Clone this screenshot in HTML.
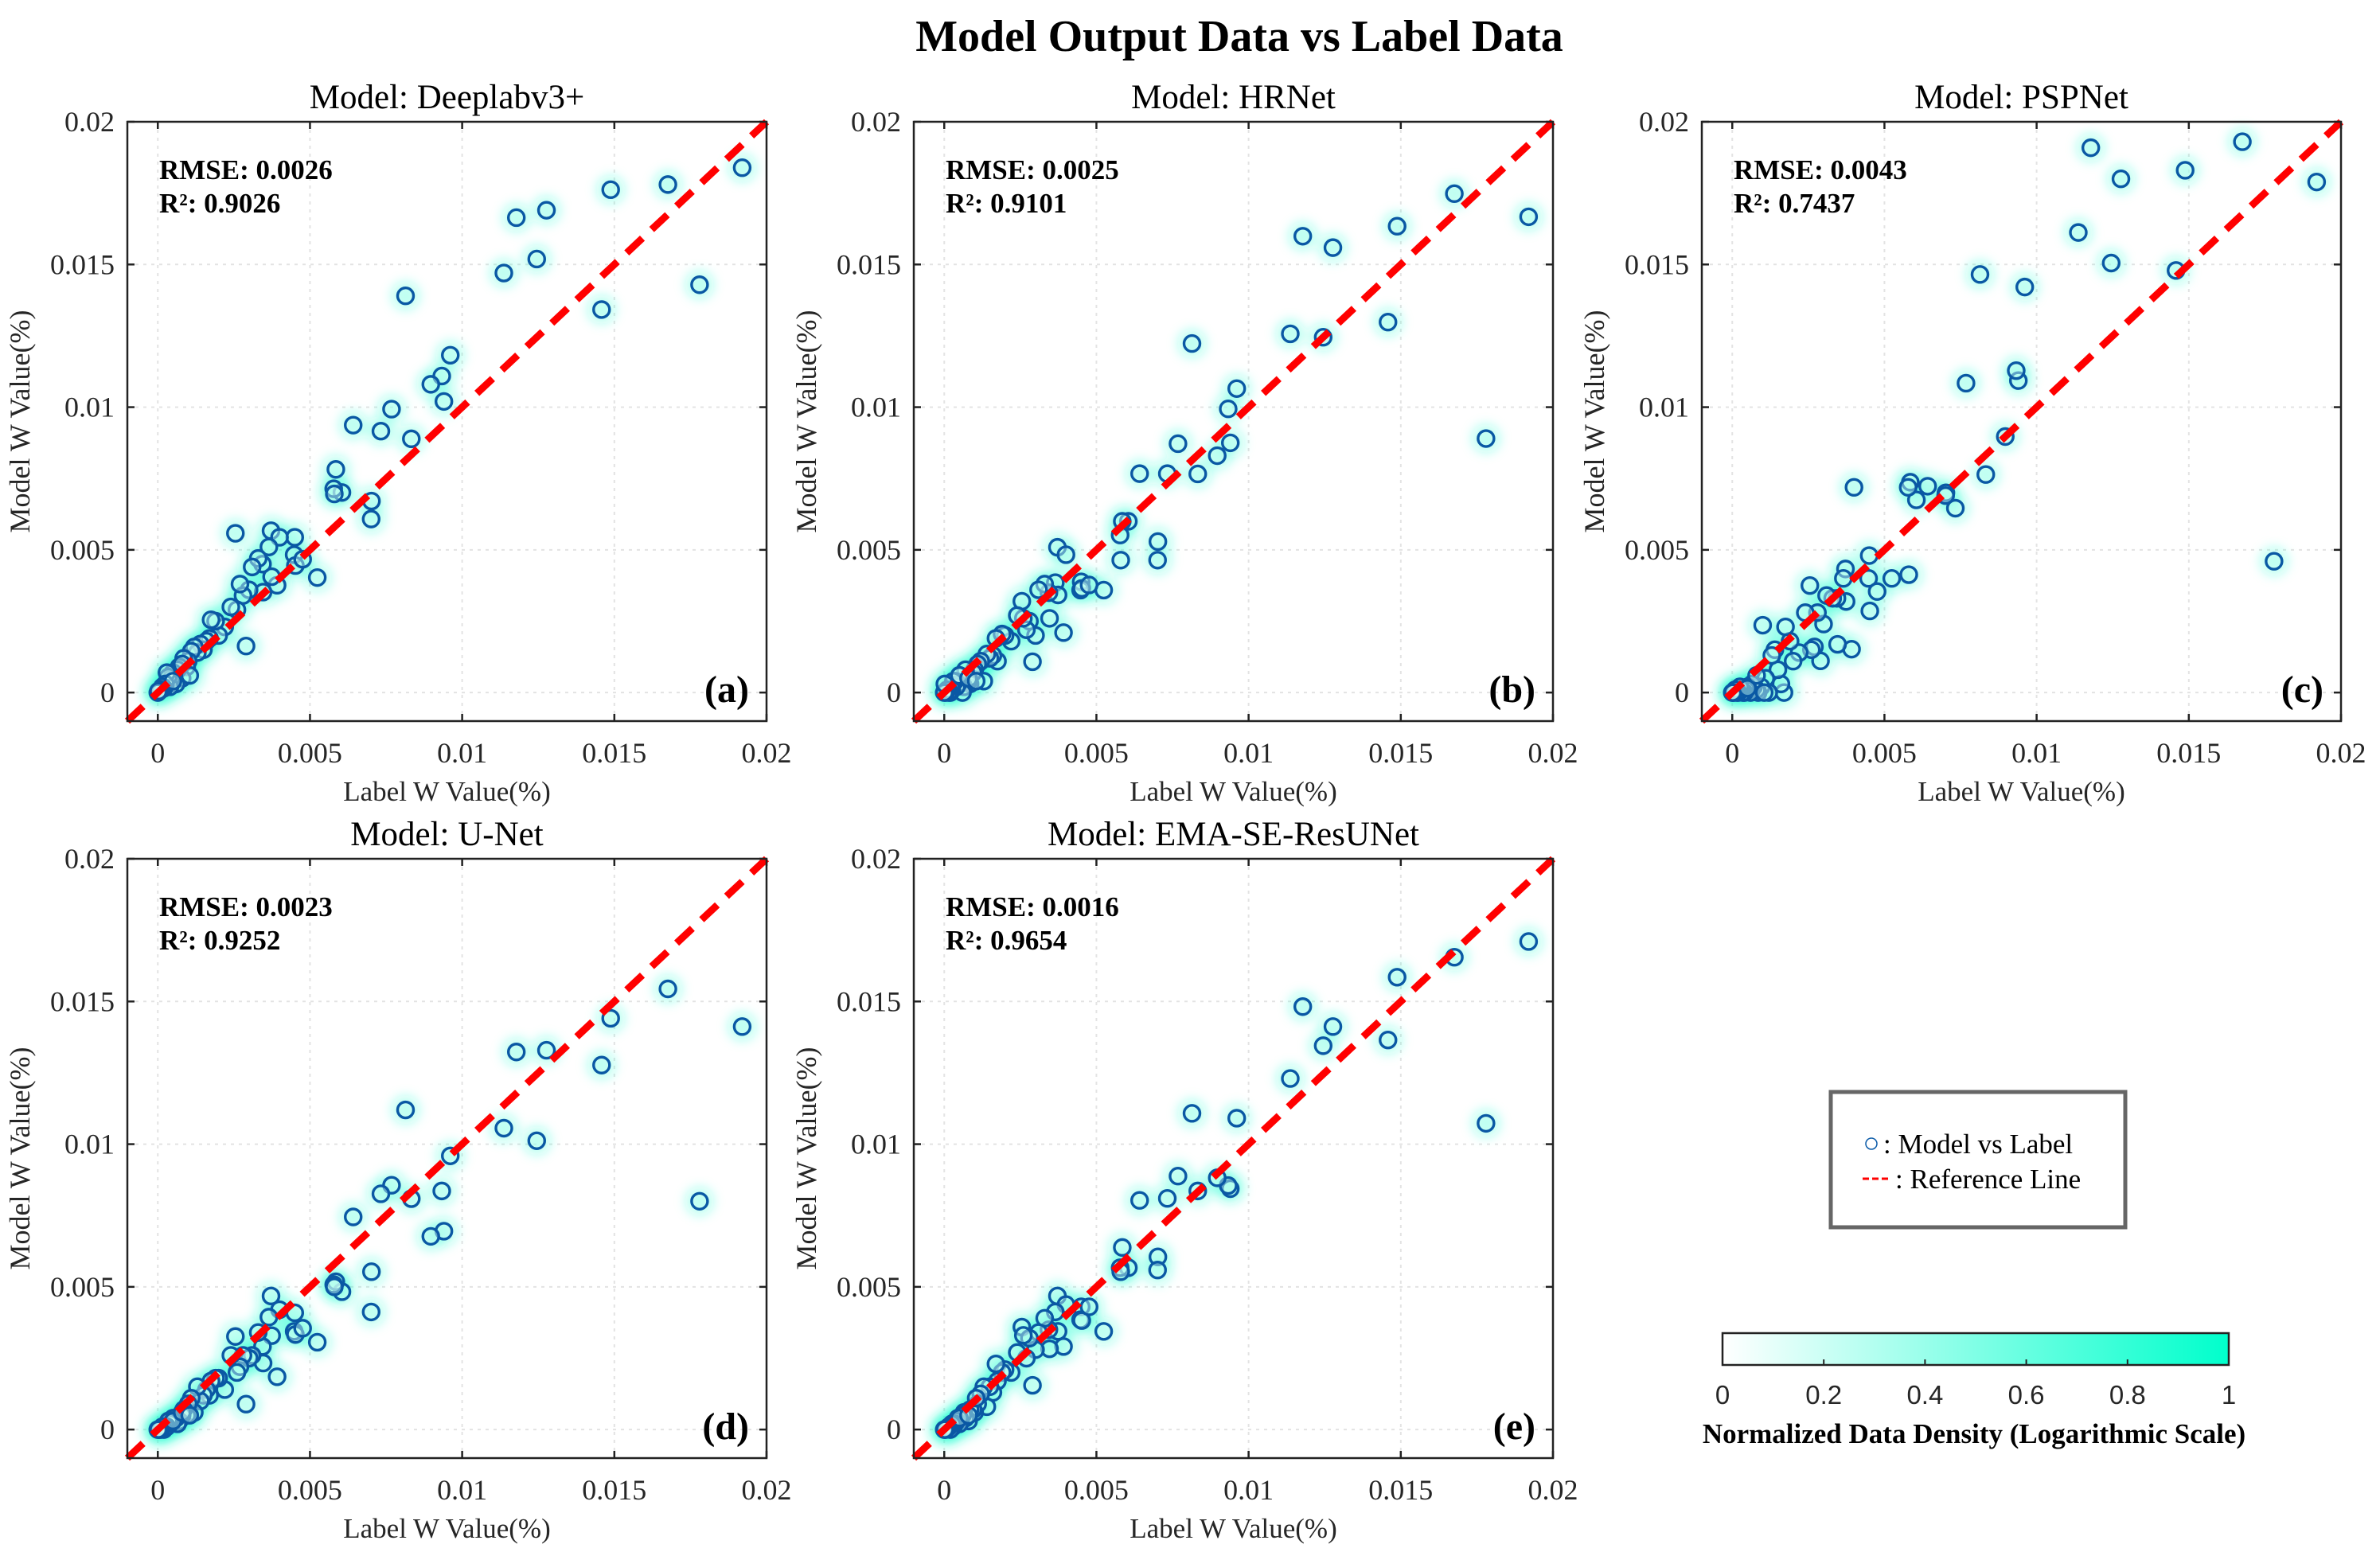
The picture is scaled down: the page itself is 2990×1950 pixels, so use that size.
<!DOCTYPE html>
<html><head><meta charset="utf-8"><style>
html,body{margin:0;padding:0;background:#fff;}
svg{display:block;}
</style></head><body>
<svg id="fig" width="2990" height="1950" viewBox="0 0 2990 1950" xmlns="http://www.w3.org/2000/svg">
<defs>
<filter id="blur" x="-50%" y="-50%" width="200%" height="200%"><feGaussianBlur stdDeviation="7"/></filter>
<linearGradient id="cbgrad" x1="0" x2="1" y1="0" y2="0"><stop offset="0" stop-color="#ffffff"/><stop offset="1" stop-color="#00ffcc"/></linearGradient>
</defs>
<text x="1557" y="64" text-anchor="middle" font-family="Liberation Serif, serif" font-weight="bold" font-size="56">Model Output Data vs Label Data</text>
<g id="panels"></g>
<g>
<rect x="2300" y="1372" width="370" height="170" fill="#fff" stroke="#666" stroke-width="5"/>
<circle cx="2351" cy="1437" r="7" fill="none" stroke="#0a5aa8" stroke-width="1.5"/>
<text x="2366" y="1449" font-family="Liberation Serif, serif" font-size="35">: Model vs Label</text>
<line x1="2340" y1="1481" x2="2374" y2="1481" stroke="#f00" stroke-width="3" stroke-dasharray="8,4"/>
<text x="2381" y="1493" font-family="Liberation Serif, serif" font-size="35">: Reference Line</text>
</g>
<g id="cbar">
<rect x="2164" y="1675" width="636" height="40" fill="url(#cbgrad)" stroke="#222" stroke-width="2.5"/>
<text x="2480" y="1813" text-anchor="middle" font-family="Liberation Serif, serif" font-weight="bold" font-size="35">Normalized Data Density (Logarithmic Scale)</text>
</g>
</svg>
<script>
const labelW = [19.2,17.8,16.76,14.88,14.58,12.77,12.45,11.78,11.37,9.61,9.40,9.33,8.97,8.33,8.14,7.68,7.33,6.42,7.02,7.01,6.05,5.85,5.78,5.80,5.24,4.50,4.48,4.52,4.76,3.92,3.72,4.0,3.65,3.74,3.46,3.44,2.55,2.9,
 3.3,3.1,3.0,2.8,2.7,2.6,2.4,2.2,2.0,1.9,1.75,1.7,1.6,1.5,1.4,1.3,1.2,1.1,1.0,0.95,0.85,0.8,0.7,0.65,0.6,0.5,0.45,0.4,0.35,0.3,0.25,0.2,0.15,0.1,0.05,0.0,0.02,0.5,0.8,1.05];
const outDeeplab = [18.39,14.29,17.8,17.62,13.42,16.9,15.19,16.64,14.7,11.82,10.2,11.09,10.8,8.89,13.9,9.93,9.16,9.37,6.71,6.08,7.01,7.82,7.14,6.96,4.03,5.44,4.83,4.45,4.67,3.76,5.67,5.44,5.1,4.06,3.52,4.5,5.58,1.63,
 4.7,4.4,3.6,3.4,3.8,2.9,3.0,2.3,2.0,2.5,2.55,1.9,1.8,1.5,1.7,1.4,1.6,1.45,1.1,0.9,1.2,0.5,0.9,0.8,0.3,0.7,0.5,0.2,0.55,0.7,0.3,0.15,0.2,0.1,0.05,0.0,0.05,0.4,1.0,0.6];
const outHRNet = [16.67,8.9,17.48,16.34,12.98,15.59,12.45,15.99,12.57,10.65,8.75,9.94,8.3,7.66,12.23,8.72,7.67,7.67,5.29,4.64,6.0,6.0,5.52,4.64,3.59,3.88,3.59,3.65,3.77,2.1,5.09,4.83,3.85,3.42,2.6,3.5,3.2,1.08,
 3.8,3.6,2.0,2.5,2.2,2.6,2.7,1.8,2.0,2.05,1.1,1.9,1.3,1.2,1.35,0.4,1.1,1.0,0.8,0.7,0.3,0.4,0.8,0.2,0.0,0.6,0.3,0.2,0.4,0.4,0.1,0.0,0.0,0.1,0.0,0.0,0.3,0.6,0.5,0.4];
const outPSPNet = [17.89,4.6,19.3,18.3,14.79,18.0,15.05,19.09,16.12,14.21,10.93,11.28,8.97,7.64,14.65,10.84,6.46,7.23,7.0,6.9,6.75,7.37,7.19,4.13,4.0,4.8,4.0,2.86,3.54,1.52,4.33,7.19,4.0,3.19,1.69,3.3,3.75,1.11,
 3.3,3.4,2.4,2.8,1.6,1.5,2.8,1.4,1.1,1.8,2.3,0.0,0.3,0.8,1.5,1.3,0.0,0.5,2.36,0.2,0.0,0.1,0.2,0.3,0.0,0.2,0.1,0.0,0.0,0.1,0.2,0.0,0.0,0.1,0.0,0.0,0.0,0.15,0.6,0.0];
const outUNet = [14.12,8.0,15.44,14.41,12.77,13.29,10.12,13.23,10.56,9.59,6.95,8.36,6.77,8.09,11.2,8.56,8.26,7.45,5.53,4.12,4.83,5.18,5.08,5.0,3.06,4.09,3.44,3.33,3.55,1.85,4.68,4.2,3.94,3.29,2.33,2.91,3.26,0.89,
 3.4,2.6,2.5,2.6,2.2,2.0,2.6,1.4,1.8,1.8,1.7,1.2,1.4,1.2,1.0,1.5,0.6,1.1,0.9,0.5,0.7,0.5,0.3,0.2,0.4,0.4,0.3,0.2,0.3,0.1,0.1,0.0,0.1,0.0,0.0,0.0,0.0,0.3,0.6,0.5];
const outEMA = [17.1,10.73,16.55,15.85,13.65,14.12,13.45,14.82,12.3,10.91,8.44,8.55,8.82,8.36,11.08,8.88,8.1,8.03,6.05,5.59,5.67,6.38,5.67,5.53,3.44,4.3,3.85,3.82,4.3,2.91,4.68,4.38,4.12,3.44,2.83,3.5,3.59,1.55,
 3.9,3.4,2.8,3.2,2.5,3.3,2.7,2.0,2.1,2.0,1.7,2.3,1.3,1.5,0.8,1.5,1.25,0.9,0.6,0.7,0.7,0.3,0.4,0.6,0.5,0.2,0.4,0.3,0.2,0.1,0.2,0.0,0.1,0.05,0.0,0.0,0.0,0.4,0.5,1.1];
const modelNames = ["Deeplabv3+","HRNet","PSPNet","U-Net","EMA-SE-ResUNet"];
const rmseVals = ["0.0026","0.0025","0.0043","0.0023","0.0016"];
const r2Vals = ["0.9026","0.9101","0.7437","0.9252","0.9654"];
const panelTags = ["(a)","(b)","(c)","(d)","(e)"];
const tickVals = [0,0.005,0.01,0.015,0.02];
const tickLabels = ["0","0.005","0.01","0.015","0.02"];
const cbTicks = [0,0.2,0.4,0.6,0.8,1];
const cbLabels = ["0","0.2","0.4","0.6","0.8","1"];
const allOutputs = [outDeeplab,outHRNet,outPSPNet,outUNet,outEMA];
const UNIT = 0.001;

const NS="http://www.w3.org/2000/svg";
function mk(tag, attrs, parent){const e=document.createElementNS(NS,tag);for(const k in attrs)e.setAttribute(k,attrs[k]);if(parent)parent.appendChild(e);return e;}
const lefts=[160,1148,2138,160,1148], tops=[153,153,153,1079,1079];
const W=803,H=753, DMIN=-0.001, DMAX=0.02;
const root=document.getElementById('panels');
for(let p=0;p<5;p++){
  const L=lefts[p],T=tops[p];
  const sx=v=>L+(v-DMIN)/(DMAX-DMIN)*W;
  const sy=v=>T+H-(v-DMIN)/(DMAX-DMIN)*H;
  const g=mk('g',{},root);
  
  
  mk('rect',{x:L,y:T,width:W,height:H,fill:'#fff'},g);
  tickVals.forEach((v,i)=>{
    const gx=mk('line',{x1:sx(v),x2:sx(v),y1:T,y2:T+H,stroke:'#e3e3e3','stroke-width':2,'stroke-dasharray':'4,6'},g);
    
    
    const gy=mk('line',{x1:L,x2:L+W,y1:sy(v),y2:sy(v),stroke:'#e3e3e3','stroke-width':2,'stroke-dasharray':'4,6'},g);
    
    
    mk('line',{x1:sx(v),x2:sx(v),y1:T+H,y2:T+H-9,stroke:'#222','stroke-width':2.5},g);
    mk('line',{x1:sx(v),x2:sx(v),y1:T,y2:T+9,stroke:'#222','stroke-width':2.5},g);
    mk('line',{x1:L,x2:L+9,y1:sy(v),y2:sy(v),stroke:'#222','stroke-width':2.5},g);
    mk('line',{x1:L+W,x2:L+W-9,y1:sy(v),y2:sy(v),stroke:'#222','stroke-width':2.5},g);
    const xt=mk('text',{x:sx(v),y:T+H+52,'text-anchor':'middle','font-family':'Liberation Serif, serif','font-size':36,fill:'#262626'},g);
    xt.textContent=tickLabels[i];
    
    
    const yt=mk('text',{x:L-16,y:sy(v)+12,'text-anchor':'end','font-family':'Liberation Serif, serif','font-size':36,fill:'#262626'},g);
    yt.textContent=tickLabels[i];
    
    
  });
  const outs=allOutputs[p];
  const hg=mk('g',{filter:'url(#blur)'},g);
  
  
  for(let i=0;i<labelW.length;i++){
    mk('circle',{cx:sx(labelW[i]*UNIT),cy:sy(outs[i]*UNIT),r:18,fill:'#20ffd0','fill-opacity':0.3},hg);
  }
  for(let i=0;i<labelW.length;i++){
    const c=mk('circle',{cx:sx(labelW[i]*UNIT),cy:sy(outs[i]*UNIT),r:10,fill:'#c8fff2','fill-opacity':0.45,stroke:'#0a58a4','stroke-width':3.4},g);
    
    
  }
  const ref=mk('line',{x1:sx(DMIN),y1:sy(DMIN),x2:sx(DMAX),y2:sy(DMAX),stroke:'#ff0000','stroke-width':9,'stroke-dasharray':'27,16'},g);
  
  
  const fr=mk('rect',{x:L,y:T,width:W,height:H,fill:'none',stroke:'#222','stroke-width':2.5},g);
  
  
  const tt=mk('text',{x:L+W/2,y:T-17,'text-anchor':'middle','font-family':'Liberation Serif, serif','font-size':43},g);
  tt.textContent='Model: '+modelNames[p];
  
  
  const xl=mk('text',{x:L+W/2,y:T+H+100,'text-anchor':'middle','font-family':'Liberation Serif, serif','font-size':35,fill:'#262626'},g);
  xl.textContent='Label W Value(%)';
  
  
  const yx=L-123, yy=T+H/2;
  const yl=mk('text',{x:yx,y:yy,'text-anchor':'middle','font-family':'Liberation Serif, serif','font-size':36,fill:'#262626',transform:'rotate(-90 '+yx+' '+yy+')'},g);
  yl.textContent='Model W Value(%)';
  
  
  const r1=mk('text',{x:L+40,y:T+72,'font-family':'Liberation Serif, serif','font-weight':'bold','font-size':35},g);
  r1.textContent='RMSE: '+rmseVals[p];
  
  
  const r2=mk('text',{x:L+40,y:T+114,'font-family':'Liberation Serif, serif','font-weight':'bold','font-size':35},g);
  r2.textContent='R²: '+r2Vals[p];
  
  
  const tg=mk('text',{x:L+W-22,y:T+H-24,'text-anchor':'end','font-family':'Liberation Serif, serif','font-weight':'bold','font-size':48},g);
  tg.textContent=panelTags[p];
  
  
}
const cb=document.getElementById('cbar');
const cbx=v=>2164+v*636;
cbTicks.forEach((v,i)=>{
  if(v>0&&v<1) mk('line',{x1:cbx(v),x2:cbx(v),y1:1715,y2:1708,stroke:'#222','stroke-width':2},cb);
  const t=mk('text',{x:cbx(v),y:1764,'text-anchor':'middle','font-family':'Liberation Sans, sans-serif','font-size':33,fill:'#262626'},cb);
  t.textContent=cbLabels[i];
  
  
});
</script>
</body></html>
